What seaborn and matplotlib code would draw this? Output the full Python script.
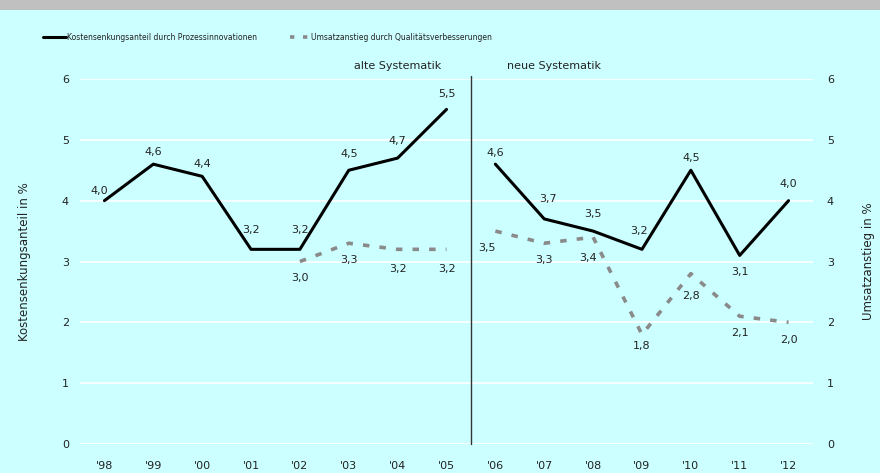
import pandas as pd
import numpy as np
import matplotlib.pyplot as plt
import seaborn as sns
from matplotlib.lines import Line2D

# Daten
jahre = ["'98", "'99", "'00", "'01", "'02", "'03", "'04", "'05",
         "'06", "'07", "'08", "'09", "'10", "'11", "'12"]
periode = ["alt"] * 8 + ["neu"] * 7
kosten = [4.0, 4.6, 4.4, 3.2, 3.2, 4.5, 4.7, 5.5,
          4.6, 3.7, 3.5, 3.2, 4.5, 3.1, 4.0]
umsatz = [np.nan, np.nan, np.nan, np.nan, 3.0, 3.3, 3.2, 3.2,
          3.5, 3.3, 3.4, 1.8, 2.8, 2.1, 2.0]
# Beschriftungsversatz (Punkte) für die Werte
kosten_off = [(-4, 7), (0, 9), (0, 9), (0, 14), (0, 14), (0, 12), (0, 12), (0, 11),
              (0, 8), (3, 14), (0, 12), (-2, 13), (0, 9), (0, -12), (0, 12)]
umsatz_off = [None, None, None, None, (0, -12), (0, -12), (0, -14), (0, -14),
              (-6, -12), (0, -12), (-4, -15), (0, -8), (0, -16), (0, -12), (0, -13)]

df = pd.DataFrame({'jahr': jahre, 'pos': range(len(jahre)), 'periode': periode,
                   'kosten': kosten, 'umsatz': umsatz})

bg = '#ccffff'
txt = '#222222'
grau = '#8a8a8a'

sns.set_style('white')
plt.rcParams['font.family'] = ['DejaVu Sans']

fig = plt.figure(figsize=(8.8, 4.73), dpi=100)
fig.patch.set_facecolor(bg)
# grauer Balken oben
fig.patches.append(plt.Rectangle((0, 1 - 10 / 473), 1, 10 / 473, transform=fig.transFigure,
                                 facecolor='#c0c0c0', edgecolor='none'))

ax = fig.add_axes([80 / 880, 1 - 444 / 473, 733 / 880, 365 / 473])
ax.set_facecolor(bg)

sns.lineplot(data=df, x='pos', y='kosten', units='periode', estimator=None,
             color='black', lw=2.2, ax=ax)
sns.lineplot(data=df.dropna(), x='pos', y='umsatz', units='periode', estimator=None,
             color=grau, lw=2.6, ax=ax, dashes=False, linestyle=(0, (1.8, 2.8)))

for i, row in df.iterrows():
    ax.annotate(f"{row['kosten']:.1f}".replace('.', ','), (row['pos'], row['kosten']),
                xytext=kosten_off[i], textcoords='offset points', ha='center', va='center',
                fontsize=8, color=txt)
    if not np.isnan(row['umsatz']):
        ax.annotate(f"{row['umsatz']:.1f}".replace('.', ','), (row['pos'], row['umsatz']),
                    xytext=umsatz_off[i], textcoords='offset points', ha='center', va='center',
                    fontsize=8, color=txt)

ax.set_xlim(-0.5, len(jahre) - 0.5)
ax.set_ylim(0, 6)
ax.set_yticks(range(7))
ax.set_xticks(range(len(jahre)))
ax.set_xticklabels(jahre)
ax.grid(axis='y', color='white', lw=1.2)
ax.grid(axis='x', visible=False)
ax.tick_params(axis='both', length=0, labelsize=8, colors=txt)
ax.tick_params(axis='x', pad=12)
ax.tick_params(axis='y', pad=8)
ax.set_xlabel('')
ax.set_ylabel('Kostensenkungsanteil in %', fontsize=8.5, color=txt, labelpad=22)
sns.despine(ax=ax, left=True, bottom=True)

# Trennlinie alte / neue Systematik
ax.plot([7.5, 7.5], [0, 6.05], color='#333333', lw=1, clip_on=False)
ax.text(6.0, 6.13, 'alte Systematik', ha='center', va='bottom', fontsize=8, color=txt)
ax.text(9.2, 6.13, 'neue Systematik', ha='center', va='bottom', fontsize=8, color=txt)

ax2 = ax.twinx()
ax2.set_ylim(0, 6)
ax2.set_yticks(range(7))
ax2.tick_params(axis='y', length=0, labelsize=8, colors=txt, pad=10)
ax2.set_ylabel('Umsatzanstieg in %', fontsize=8.5, color=txt, labelpad=20)
for s in ax2.spines.values():
    s.set_visible(False)

# Legende
leg_font = {'family': 'DejaVu Sans', 'stretch': 'condensed', 'size': 6.1}
fig.legend([Line2D([], [], color='black', lw=2.2)],
           ['Kostensenkungsanteil durch Prozessinnovationen'],
           loc='center left', bbox_to_anchor=(35 / 880, 1 - 37 / 473), frameon=False,
           handlelength=2.8, handletextpad=0.1, labelcolor=txt, prop=leg_font)
fig.legend([Line2D([], [], color=grau, lw=2.6, linestyle=(0, (1.2, 2.4)))],
           ['Umsatzanstieg durch Qualitätsverbesserungen'],
           loc='center left', bbox_to_anchor=(282 / 880, 1 - 37 / 473), frameon=False,
           handlelength=2.4, handletextpad=0.1, labelcolor=txt, prop=leg_font)

fig.savefig('out.png', dpi=100, facecolor=bg)
